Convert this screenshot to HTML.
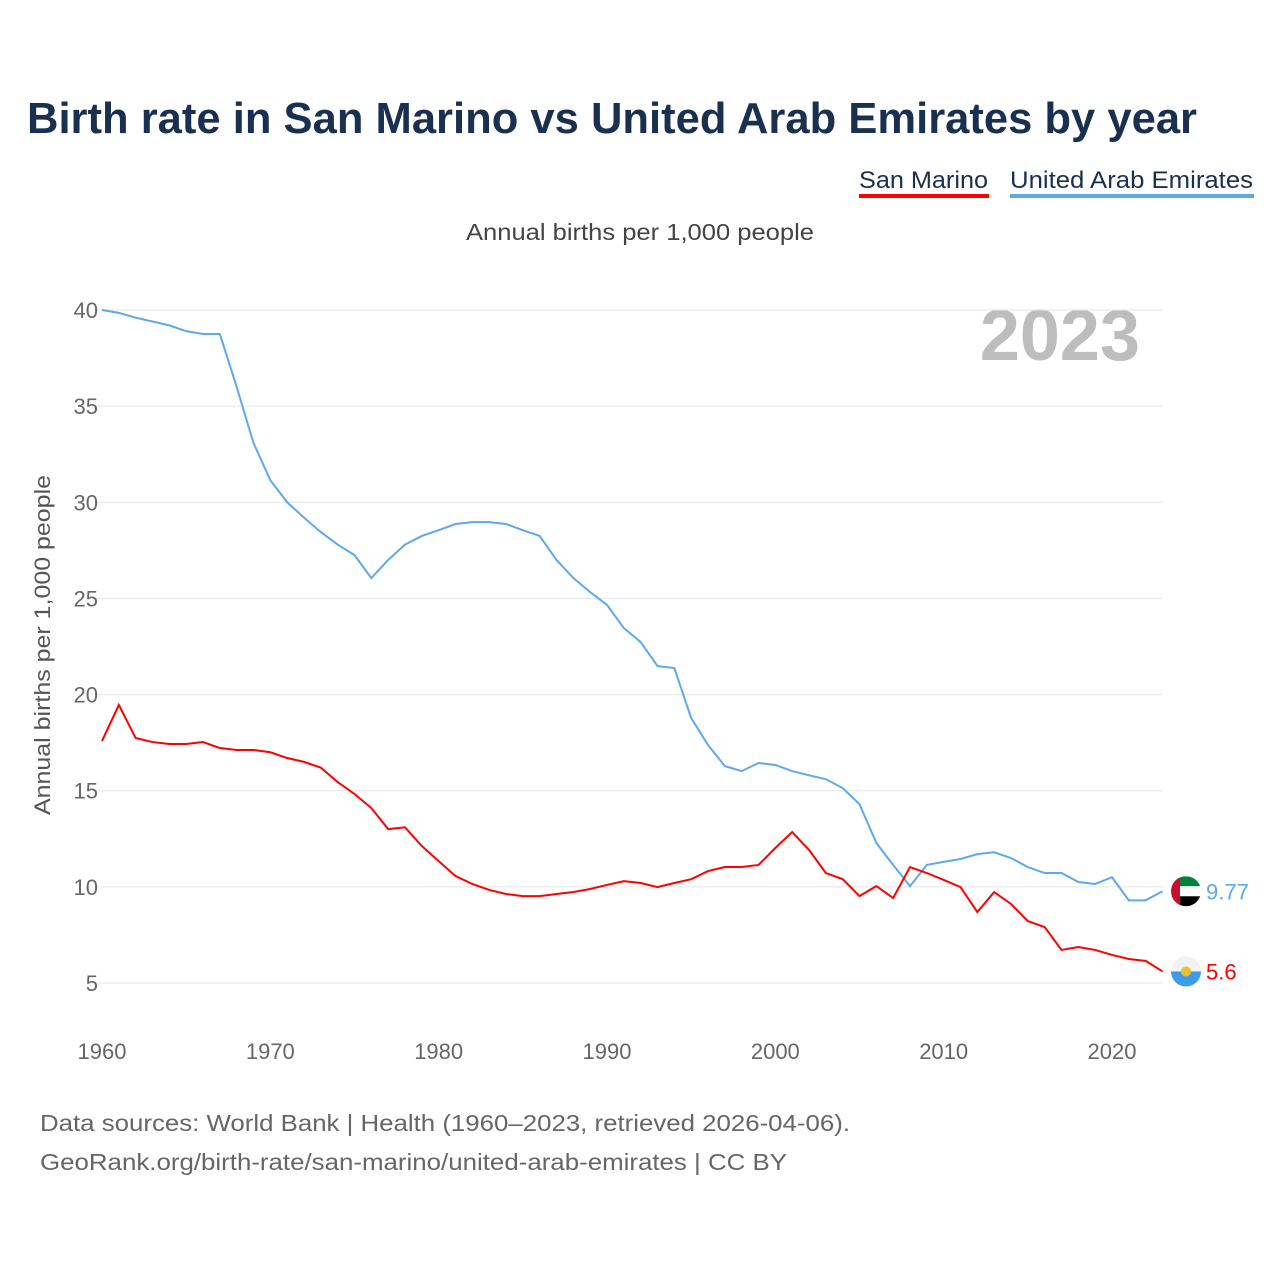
<!DOCTYPE html>
<html><head><meta charset="utf-8">
<style>
body{margin:0;background:#fff;font-family:"Liberation Sans",sans-serif;}
#wrap{position:relative;width:1280px;height:1280px;overflow:hidden;}
</style></head>
<body>
<div id="wrap">
<svg id="chart" width="1280" height="1280" xmlns="http://www.w3.org/2000/svg">
<text x="27" y="133" font-size="44" font-weight="bold" fill="#1a3050" textLength="1170" lengthAdjust="spacingAndGlyphs">Birth rate in San Marino vs United Arab Emirates by year</text>
<g>
<text x="859" y="188" font-size="24" fill="#1a3050" textLength="129" lengthAdjust="spacingAndGlyphs">San Marino</text>
<rect x="859" y="194" width="130" height="4" fill="#ff0000"/></g>
<g>
<text x="1010" y="188" font-size="24" fill="#1a3050" textLength="243" lengthAdjust="spacingAndGlyphs">United Arab Emirates</text>
<rect x="1010" y="194" width="244" height="4" fill="#5ea8ec"/></g>
<text x="466" y="240" font-size="23" fill="#444" textLength="348" lengthAdjust="spacingAndGlyphs">Annual births per 1,000 people</text>
<text x="1140" y="360" font-size="72" font-weight="bold" fill="#bdbdbd" text-anchor="end">2023</text>
<text transform="translate(50,815) rotate(-90)" font-size="22" fill="#555" textLength="340" lengthAdjust="spacingAndGlyphs">Annual births per 1,000 people</text>
<g id="grid"></g><g id="yt"></g><g id="xt"></g><g id="lines"></g>
<text x="40" y="1131" font-size="23" fill="#666" textLength="810" lengthAdjust="spacingAndGlyphs">Data sources: World Bank | Health (1960–2023, retrieved 2026-04-06).</text>
<text x="40" y="1170" font-size="23" fill="#666" textLength="747" lengthAdjust="spacingAndGlyphs">GeoRank.org/birth-rate/san-marino/united-arab-emirates | CC BY</text>
</svg>
</div>
<script>
const years=[];for(let y=1960;y<=2023;y++)years.push(y);
const uae=[40.0,39.85,39.6,39.4,39.2,38.9,38.75,38.75,36.0,33.08,31.15,30.0,29.2,28.45,27.8,27.25,26.06,27.0,27.8,28.25,28.55,28.87,28.97,28.97,28.87,28.55,28.25,27.0,26.06,25.33,24.66,23.46,22.73,21.48,21.38,18.78,17.38,16.28,16.02,16.44,16.34,16.02,15.8,15.6,15.14,14.3,12.28,11.14,10.04,11.14,11.3,11.45,11.7,11.8,11.5,11.03,10.72,10.72,10.25,10.15,10.5,9.3,9.3,9.77];
const smr=[17.58,19.46,17.74,17.53,17.43,17.43,17.53,17.22,17.12,17.12,17.0,16.7,16.5,16.2,15.45,14.83,14.1,13.0,13.1,12.12,11.34,10.56,10.15,9.84,9.63,9.52,9.52,9.63,9.73,9.89,10.1,10.3,10.2,9.99,10.2,10.4,10.82,11.03,11.03,11.14,12.02,12.85,11.92,10.72,10.4,9.52,10.04,9.42,11.03,10.72,10.36,9.99,8.69,9.73,9.11,8.22,7.91,6.72,6.87,6.72,6.46,6.25,6.15,5.6];
const yTicks=[5,10,15,20,25,30,35,40];
const xTicks=[1960,1970,1980,1990,2000,2010,2020];
const NS="http://www.w3.org/2000/svg";
const X=y=>102+(y-1960)*(1010/60);
const Y=v=>983-(v-5)*(673/35);
function mk(t,a,p){const e=document.createElementNS(NS,t);for(const k in a)e.setAttribute(k,a[k]);document.getElementById(p).appendChild(e);return e;}
yTicks.forEach(v=>{
 const l=mk('line',{x1:95,x2:1162,y1:Y(v),y2:Y(v),stroke:'#e6e6e6','stroke-width':1},'grid');
 
 
 const t=mk('text',{x:98,y:Y(v)+8,'font-size':22,fill:'#666','text-anchor':'end'},'yt');t.textContent=v;
 
 
});
xTicks.forEach(v=>{
 const t=mk('text',{x:X(v),y:1059,'font-size':22,fill:'#666','text-anchor':'middle'},'xt');t.textContent=v;
 
 
});
function line(d,c,name){
 const p=mk('polyline',{points:d.map((v,i)=>X(years[i])+','+Y(v)).join(' '),fill:'none',stroke:c,'stroke-width':2},'lines');
 
 
}
line(uae,'#5ea8ec','uae-line');
line(smr,'#ff0000','san-marino-line');
const lu=uae[uae.length-1],ls=smr[smr.length-1];
const f1=mk('g',{},'lines');


f1.innerHTML=`<clipPath id="c1"><circle cx="1186" cy="${Y(lu)}" r="15"/></clipPath><g clip-path="url(#c1)"><rect x="1171" y="${Y(lu)-15}" width="30" height="10" fill="#00843d"/><rect x="1171" y="${Y(lu)-5}" width="30" height="10" fill="#fff"/><rect x="1171" y="${Y(lu)+5}" width="30" height="10" fill="#000"/><rect x="1171" y="${Y(lu)-15}" width="9" height="30" fill="#c8102e"/></g>`;
const f2=mk('g',{},'lines');


f2.innerHTML=`<clipPath id="c2"><circle cx="1186" cy="${Y(ls)}" r="15"/></clipPath><g clip-path="url(#c2)"><rect x="1171" y="${Y(ls)-15}" width="30" height="15" fill="#f2f2f2"/><rect x="1171" y="${Y(ls)}" width="30" height="15" fill="#3d9be9"/><circle cx="1186" cy="${Y(ls)}" r="5" fill="#e8c22a"/></g>`;
const t1=mk('text',{x:1206,y:Y(lu)+8,'font-size':22,fill:'#5ea8ec'},'lines');t1.textContent=lu;


const t2=mk('text',{x:1206,y:Y(ls)+8,'font-size':22,fill:'#ff0000'},'lines');t2.textContent=ls;


</script>
</body></html>
